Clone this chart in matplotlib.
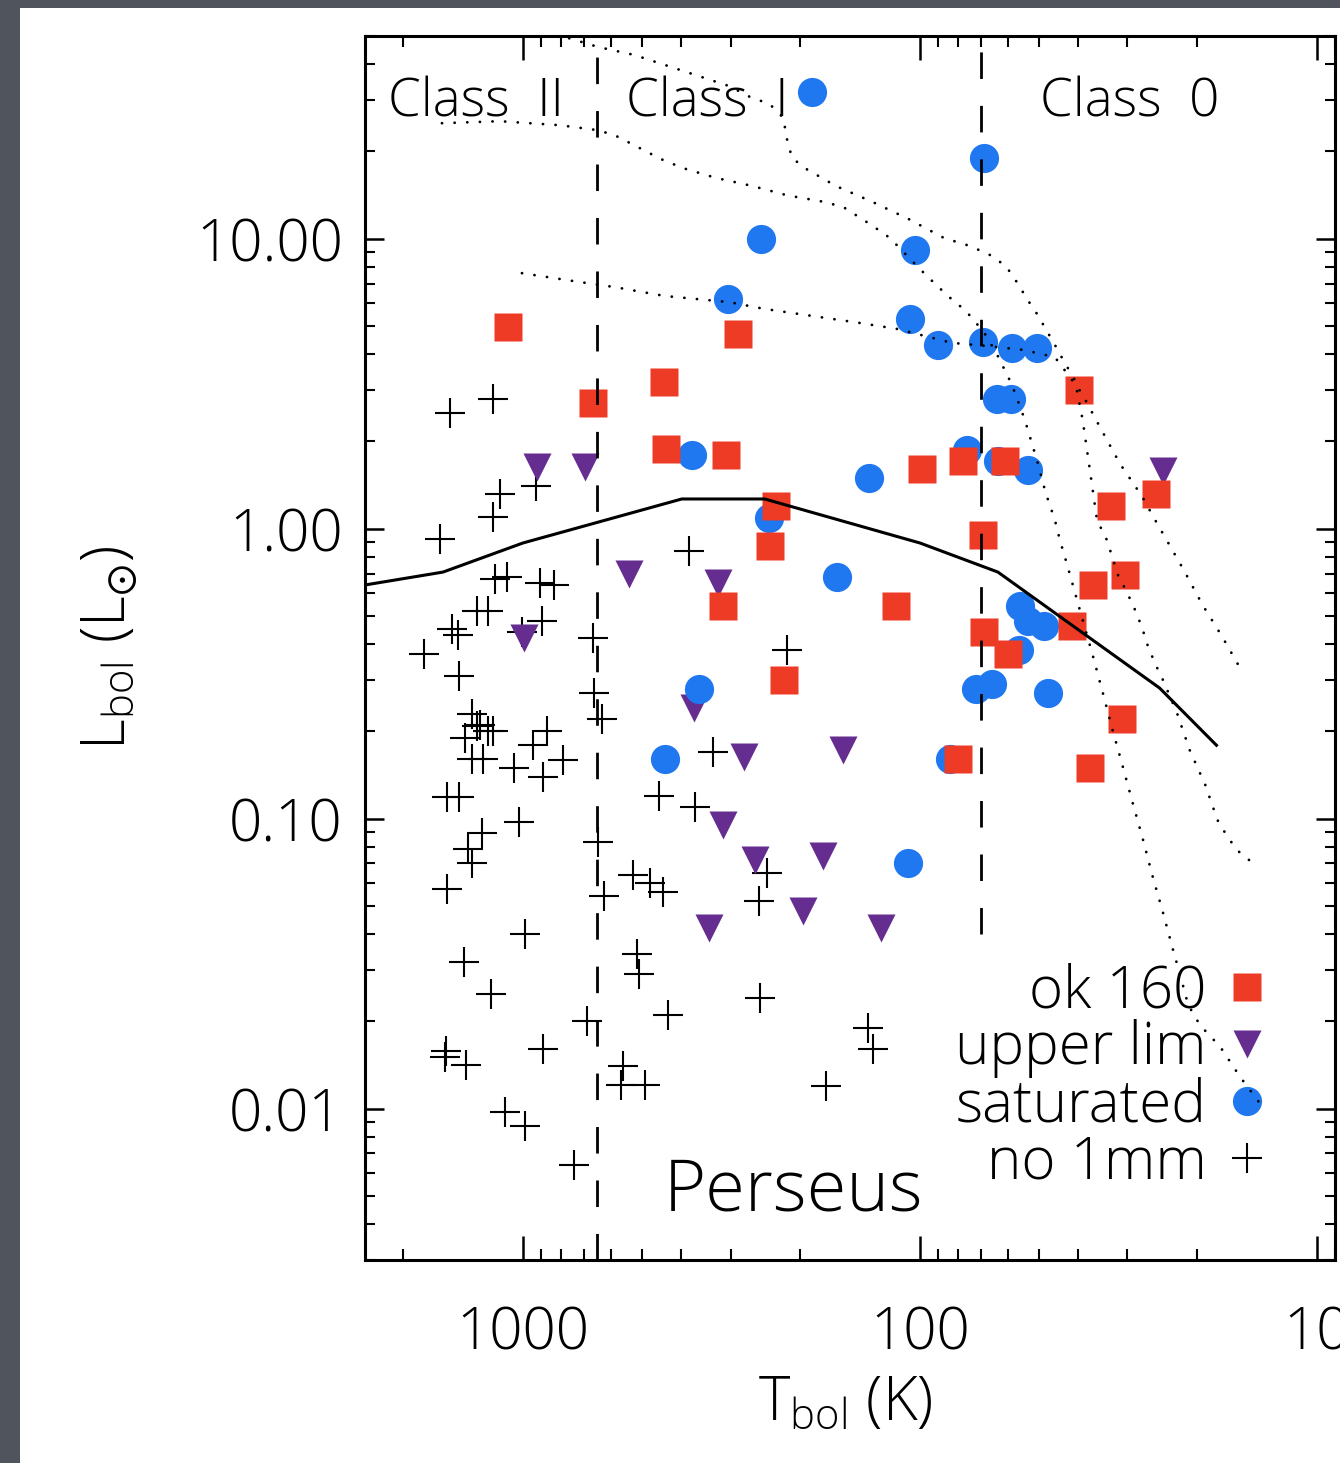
import matplotlib
matplotlib.use('Agg')
import matplotlib.pyplot as plt
from matplotlib.patches import Rectangle
from matplotlib.ticker import FixedLocator, FixedFormatter, LogLocator, NullFormatter

plt.rcParams['font.family'] = ['Open Sans', 'DejaVu Sans']
plt.rcParams['font.weight'] = 'light'
plt.rcParams['axes.labelweight'] = 'light'
plt.rcParams['mathtext.fontset'] = 'dejavusans'
plt.rcParams['lines.scale_dashes'] = False

# sources with good 160 micron fluxes
ok_T = [1090, 665, 440, 287, 437, 308, 230, 238, 313, 220, 115, 99, 78, 61,
        69.5, 69, 60, 39.8, 33, 25.4, 36.6, 30.5, 41.4, 31, 37.3, 80]
ok_L = [4.95, 2.7, 3.2, 4.7, 1.88, 1.8, 1.2, 0.87, 0.54, 0.30, 0.54, 1.6, 1.71, 1.71,
        0.95, 0.44, 0.37, 3.0, 1.2, 1.32, 0.64, 0.69, 0.46, 0.22, 0.15, 0.16]

# 160 micron upper limits
up_T = [920, 697, 540, 995, 323, 371, 277, 156, 313, 261, 175, 197, 340, 125, 24.4]
up_L = [1.63, 1.63, 0.70, 0.42, 0.65, 0.24, 0.163, 0.172, 0.095, 0.072, 0.074,
        0.048, 0.042, 0.042, 1.58]

# saturated at 160 micron
sat_T = [187, 69, 252, 103, 305, 106, 90, 69.5, 58.6, 50.7, 64, 59, 375, 76, 63.6,
         53.5, 134, 240, 162, 56, 53.5, 48.7, 56.4, 72.4, 66, 47.6, 360, 439, 84, 107]
sat_L = [32, 19, 10, 9.1, 6.2, 5.3, 4.3, 4.4, 4.2, 4.2, 2.8, 2.8, 1.8, 1.87, 1.71,
         1.59, 1.5, 1.09, 0.68, 0.54, 0.48, 0.46, 0.38, 0.28, 0.29, 0.27, 0.28, 0.16, 0.16, 0.07]

# no 1mm detection
no_T = [1530, 1190, 1140, 1190, 1620, 927, 1175, 1100, 906, 835, 1305, 1225, 1510, 1460,
        1775, 896, 1005, 666, 382, 1450, 1345, 1283, 1225, 1190, 1400, 1305, 1345, 1260,
        870, 944, 793, 1054, 890, 1555, 1450, 1023, 1270, 1375, 1345, 1555, 988, 1410,
        1205, 1565, 1570, 1390, 890, 690, 1110, 988, 744, 663, 632, 647, 625, 528, 479,
        444, 516, 510, 431, 560, 566, 493, 454, 369, 332, 216, 243, 254, 253, 135, 131, 172]
no_L = [2.5, 2.8, 1.32, 1.1, 0.92, 1.40, 0.67, 0.68, 0.65, 0.64, 0.52, 0.52, 0.45, 0.43,
        0.37, 0.48, 0.44, 0.42, 0.84, 0.31, 0.23, 0.21, 0.20, 0.20, 0.19, 0.208, 0.16, 0.16,
        0.20, 0.18, 0.159, 0.15, 0.139, 0.119, 0.119, 0.097, 0.089, 0.0785, 0.070, 0.057,
        0.040, 0.032, 0.0248, 0.0158, 0.0151, 0.0141, 0.016, 0.020, 0.0097, 0.0087, 0.0064,
        0.27, 0.22, 0.083, 0.054, 0.064, 0.060, 0.056, 0.034, 0.029, 0.021, 0.014, 0.0121,
        0.0121, 0.12, 0.11, 0.17, 0.38, 0.065, 0.052, 0.024, 0.019, 0.016, 0.012]

# median curve
med_T = [2500, 1590, 1000, 398, 246, 100, 63.6, 24.9, 17.9]
med_L = [0.639, 0.708, 0.892, 1.265, 1.265, 0.892, 0.708, 0.282, 0.179]

# evolutionary tracks
trkA_T = [1600, 1143, 807, 655, 590, 525, 449, 395, 327, 265, 216, 175, 156, 132, 119,
          107, 96.6, 85.0, 76.6, 69.0, 64.0, 58.6, 54.4, 50.7, 48.2, 45.7, 44.4, 42.4,
          40.0, 36.6, 34.6, 32.7, 30.8, 29.1, 27.4, 25.9, 24.4, 23.1, 22.1, 21.1, 19.7,
          17.5, 15.6, 13.7]
trkA_L = [25, 25.4, 24.6, 23.7, 22.8, 21.0, 18.8, 17.5, 16.2, 15.2, 14.1, 13.4, 12.85,
          11.1, 10.05, 8.64, 7.49, 6.34, 5.63, 4.76, 4.0, 3.13, 2.37, 1.72, 1.327, 1.07,
          0.913, 0.737, 0.554, 0.361, 0.271, 0.202, 0.1506, 0.1132, 0.0844, 0.0629,
          0.0473, 0.0358, 0.0289, 0.0228, 0.0194, 0.0163, 0.01285, 0.01013]
trkB_T = [880, 647, 525, 439, 362, 303, 268, 239, 221, 216, 210, 195, 163, 132, 107, 87.0,
          74.8, 66.6, 60.7, 57.0, 53.5, 50.7, 48.2, 45.7, 43.4, 40.7, 38.9, 37.3, 35.8,
          33.8, 31.7, 30.1, 28.7, 27.6, 26.7, 25.6, 24.4, 22.5, 20.9, 19.1, 17.8, 16.9,
          15.9, 14.6]
trkB_L = [52, 45.8, 43.0, 39.7, 36.4, 33.6, 30.8, 29.1, 26.1, 21.9, 19.0, 17.5, 15.2, 13.4,
          11.7, 10.05, 9.43, 8.78, 8.04, 7.08, 6.14, 5.50, 4.88, 4.30, 3.78, 3.25, 2.37,
          1.59, 1.07, 0.913, 0.692, 0.604, 0.524, 0.458, 0.397, 0.344, 0.30, 0.231, 0.172,
          0.1306, 0.0989, 0.0878, 0.0779, 0.0708]
trkC_T = [1006, 718, 590, 439, 303, 246, 142, 114, 83.1, 67.4, 54.7, 45.7, 41.9, 39.1,
          35.2, 31.3, 27.6, 25.3, 23.9, 21.5, 19.4, 17.3, 15.4]
trkC_L = [7.6, 7.08, 6.81, 6.34, 6.04, 5.72, 5.12, 4.88, 4.37, 4.26, 4.13, 3.90, 3.33,
          2.93, 2.24, 1.67, 1.295, 1.045, 0.913, 0.708, 0.545, 0.423, 0.32]

# class boundaries (K) and the luminosity range each dashed line covers
class_T = [650, 70]
class_Lmin = [0.003, 0.04]
class_Lmax = [50, 50]

x_ticks = [1000, 100, 10]
x_labels = ['1000', '100', '10']
y_ticks = [10, 1, 0.1, 0.01]
y_labels = ['10.00', '1.00', '0.10', '0.01']

W, H = 1340, 1463
fig = plt.figure(figsize=(W / 100, H / 100), dpi=100)
fig.patch.set_facecolor('#50555d')
fig.add_artist(Rectangle((20 / W, 0), 1, 1 - 8 / H, transform=fig.transFigure,
                         facecolor='white', edgecolor='none', zorder=-1))
ax = fig.add_axes([365 / W, 1 - 1260.2 / H, 970 / W, 1224.3 / H])
ax.set_xscale('log')
ax.set_yscale('log')

no_h, = ax.plot(no_T, no_L, '+', color='black', ms=21, mew=1.5, zorder=2, label='no 1mm')
up_h, = ax.plot(up_T, up_L, 'v', color='#662d91', ms=20, mec='none', zorder=3, label='upper lim')
sat_h, = ax.plot(sat_T, sat_L, 'o', color='#1f78f0', ms=21, mec='none', zorder=4, label='saturated')
ok_h, = ax.plot(ok_T, ok_L, 's', color='#ee3b26', ms=20, mec='none', zorder=5, label='ok 160')

ax.plot(med_T, med_L, color='black', lw=2.2, zorder=6)
for tt, ll in [(trkA_T, trkA_L), (trkB_T, trkB_L), (trkC_T, trkC_L)]:
    ax.plot(tt, ll, color='black', lw=2.0, linestyle=(0, (0.1, 9.0)),
            dash_capstyle='round', zorder=6)
ax.vlines(class_T, class_Lmin, class_Lmax, colors='black', lw=2.0,
          linestyles=[(0, (19.1, 19.4))], zorder=6)

ax.set_xlim(2500, 9)
ax.set_ylim(0.003, 50)

ax.xaxis.set_major_locator(FixedLocator(x_ticks))
ax.xaxis.set_major_formatter(FixedFormatter(x_labels))
ax.yaxis.set_major_locator(FixedLocator(y_ticks))
ax.yaxis.set_major_formatter(FixedFormatter(y_labels))
for axis in (ax.xaxis, ax.yaxis):
    axis.set_minor_locator(LogLocator(base=10, subs=range(2, 10), numticks=50))
    axis.set_minor_formatter(NullFormatter())

ax.tick_params(which='both', direction='in', top=True, right=True, labelsize=42)
ax.tick_params(axis='x', which='major', length=17, width=1.8, pad=32)
ax.tick_params(axis='x', which='minor', length=8, width=1.5)
ax.tick_params(axis='y', which='major', length=14, width=1.8, pad=16)
ax.tick_params(axis='y', which='minor', length=7, width=1.5)
for sp in ax.spines.values():
    sp.set_linewidth(2.2)

ax.set_xlabel(r'T$_{\mathregular{bol}}$ (K)', fontsize=43)
ax.xaxis.set_label_coords(0.495, -0.093)
ax.set_ylabel(r'L$_{\mathregular{bol}}$ (L$_{\odot}$)', fontsize=43)
ax.yaxis.set_label_coords(-0.232, 0.5)

ax.text(0.0237, 0.934, 'Class  II', transform=ax.transAxes, fontsize=38, va='baseline')
ax.text(0.269, 0.934, 'Class  I', transform=ax.transAxes, fontsize=38, va='baseline')
ax.text(0.696, 0.934, 'Class  0', transform=ax.transAxes, fontsize=38, va='baseline')
ax.text(0.442, 0.041, 'Perseus', transform=ax.transAxes, fontsize=52, va='baseline', ha='center')

ax.legend(handles=[ok_h, up_h, sat_h, no_h], loc='lower right', bbox_to_anchor=(0.923, 0.055),
          frameon=False, markerfirst=False, fontsize=42, handlelength=0.46,
          handletextpad=0.46, labelspacing=-0.03, borderpad=0, borderaxespad=0, numpoints=1)

fig.savefig('out.png', dpi=100)
